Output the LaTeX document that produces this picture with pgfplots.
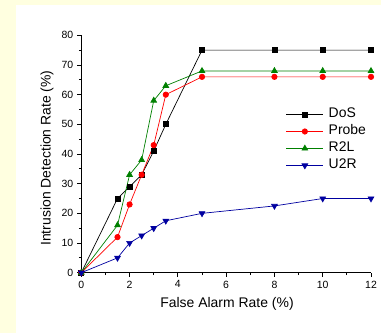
\documentclass[border=0pt]{standalone}
\usepackage{pgfplots}
\pgfplotsset{compat=1.18}
\usepackage{fontspec}
\setmainfont{Liberation Sans}
\definecolor{bgyellow}{RGB}{255,255,224}
\definecolor{ugreen}{RGB}{0,128,0}
\definecolor{ublue}{RGB}{0,0,160}
\definecolor{ured}{RGB}{255,0,0}
\begin{document}
\begin{tikzpicture}
\useasboundingbox (-81.3bp,-60.3bp) rectangle (299.7bp,272.7bp);
\fill[bgyellow] (-81.3bp,-60.3bp) rectangle (299.7bp,272.7bp);
\fill[white] (-65.3bp,-60.3bp) rectangle (299.7bp,267.7bp);
\begin{axis}[
  at={(0,0)}, anchor=south west,
  scale only axis, width=289.7bp, height=237.4bp,
  xmin=0, xmax=12, ymin=0, ymax=80,
  axis x line*=bottom, axis y line*=left,
  axis line style={line width=0.8bp, black},
  xtick={0,2,...,12}, minor xtick={1,3,...,11},
  ytick={0,10,...,80}, minor ytick={5,15,...,75},
  tick align=outside,
  major tick length=4bp, minor tick length=2.5bp,
  tick style={line width=0.8bp, black},
  /pgf/number format/assume math mode=true,
  tick label style={font=\fontsize{10.5}{12}\selectfont},
  xticklabel style={anchor=north, yshift=-0.5bp},
  yticklabel style={anchor=east, xshift=-0.5bp},
  xlabel={False Alarm Rate (\%)},
  ylabel={Intrusion Detection Rate (\%)},
  label style={font=\fontsize{14}{16}\selectfont},
  xlabel style={at={(axis description cs:0.503,-0.1318)}, anchor=center},
  ylabel style={at={(axis description cs:-0.1184,0.483)}, anchor=center},
  clip=false,
  every axis plot/.append style={line width=0.7bp},
  legend style={draw=none, fill=none, at={(rel axis cs:0.7066,0.559)}, anchor=west,
    font=\fontsize{14}{16}\selectfont, inner sep=0pt, outer sep=0pt,
    nodes={inner sep=0pt, text height=10bp, text depth=3bp},
    row sep=4bp, /tikz/every odd column/.append style={column sep=5bp}},
  legend cell align=left,
  legend image code/.code={\draw[mark repeat=2,mark phase=2] plot coordinates {(0bp,0bp) (18.5bp,0bp) (37bp,0bp)};},
]
\addplot[black, mark=square*, mark size=2.5bp, mark options={solid}] coordinates {
(0,0) (1.5,25) (2,29) (2.5,33) (3,41) (3.5,50) (5,75) (8,75) (10,75) (12,75)};
\addlegendentry{DoS}
\addplot[ured, mark=*, mark size=2.7bp] coordinates {
(0,0) (1.5,12) (2,23) (2.5,33) (3,43) (3.5,60) (5,66) (8,66) (10,66) (12,66)};
\addlegendentry{Probe}
\addplot[ugreen, mark=triangle*, mark size=3.3bp] coordinates {
(0,0) (1.5,16) (2,33) (2.5,38) (3,58) (3.5,63) (5,68) (8,68) (10,68) (12,68)};
\addlegendentry{R2L}
\addplot[ublue, mark=triangle*, mark size=3.3bp, mark options={rotate=180}] coordinates {
(0,0) (1.5,5) (2,10) (2.5,12.5) (3,15) (3.5,17.5) (5,20) (8,22.5) (10,25) (12,25)};
\addlegendentry{U2R}
\end{axis}
\end{tikzpicture}
\end{document}
